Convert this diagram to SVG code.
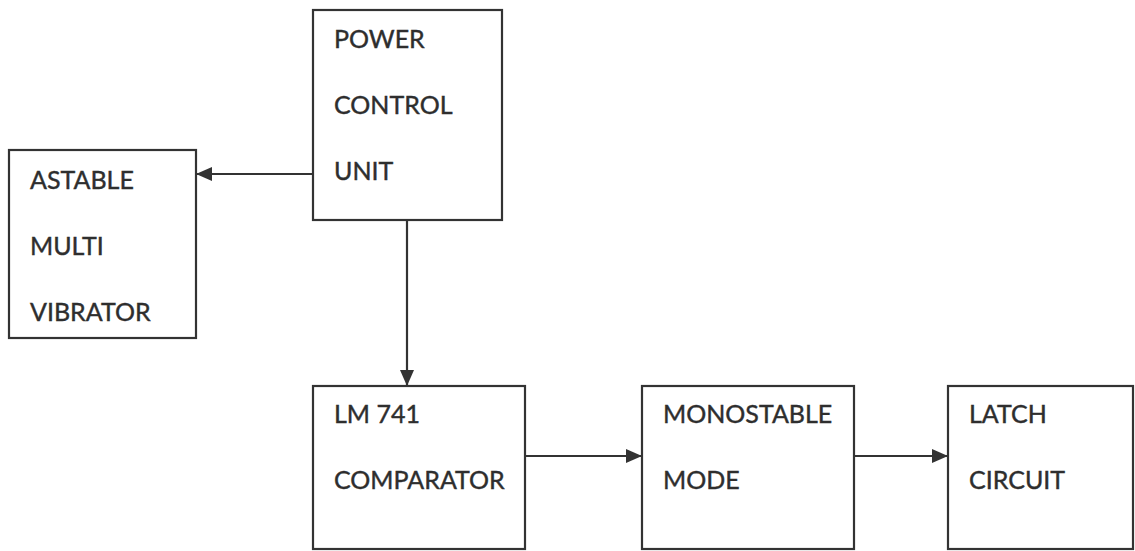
<svg xmlns="http://www.w3.org/2000/svg" width="1135" height="551" viewBox="0 0 1135 551">
<style>
.box{fill:#fff;stroke:#333;stroke-width:2.2}
.t{font-family:Lato,"Open Sans",sans-serif;font-size:25px;fill:#2e2e2e;stroke:#2e2e2e;stroke-width:0.4}
.c{stroke:#333;stroke-width:2.2;fill:none}
</style>
<defs>
<marker id="ah" markerWidth="16" markerHeight="14" refX="16" refY="7" orient="auto" markerUnits="userSpaceOnUse">
<path d="M0,0 L16,7 L0,14 Z" fill="#333"/>
</marker>
</defs>
<rect width="1135" height="551" fill="#fff"/>
<g id="power">
<rect class="box" x="313" y="10" width="189" height="210"/>
<text class="t" x="334" y="48">POWER</text>
<text class="t" x="334" y="114">CONTROL</text>
<text class="t" x="334" y="180">UNIT</text>
</g>
<g id="astable">
<rect class="box" x="9" y="150" width="187" height="188"/>
<text class="t" x="30" y="189">ASTABLE</text>
<text class="t" x="30" y="255">MULTI</text>
<text class="t" x="30" y="321">VIBRATOR</text>
</g>
<g id="lm741">
<rect class="box" x="313" y="386" width="212" height="163"/>
<text class="t" x="334" y="423">LM 741</text>
<text class="t" x="334" y="489">COMPARATOR</text>
</g>
<g id="mono">
<rect class="box" x="642" y="386" width="212" height="163"/>
<text class="t" x="663" y="423">MONOSTABLE</text>
<text class="t" x="663" y="489">MODE</text>
</g>
<g id="latch">
<rect class="box" x="948" y="386" width="185" height="163"/>
<text class="t" x="969" y="423">LATCH</text>
<text class="t" x="969" y="489">CIRCUIT</text>
</g>
<g id="connectors">
<line class="c" x1="313" y1="174" x2="196" y2="174" marker-end="url(#ah)"/>
<line class="c" x1="407" y1="220" x2="407" y2="386" marker-end="url(#ah)"/>
<line class="c" x1="525" y1="456" x2="642" y2="456" marker-end="url(#ah)"/>
<line class="c" x1="854" y1="456" x2="948" y2="456" marker-end="url(#ah)"/>
</g>
</svg>
